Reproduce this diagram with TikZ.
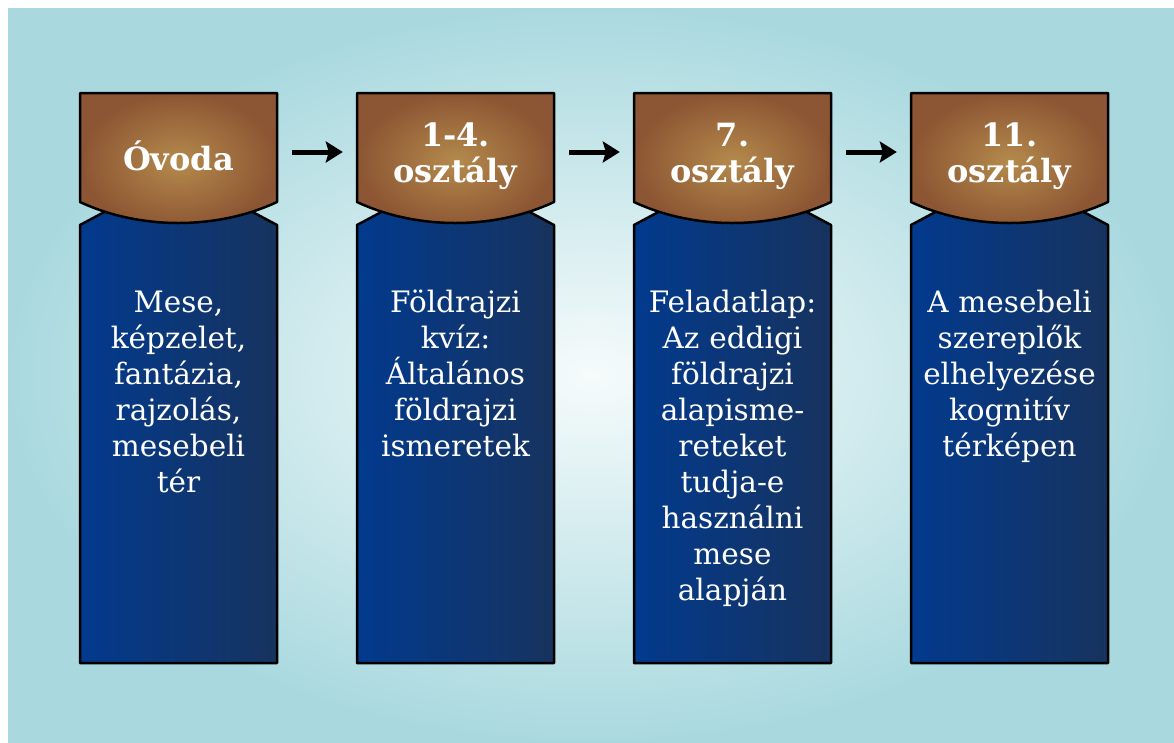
\documentclass[tikz,border=0pt]{standalone}
\usepackage{fontspec}
\setmainfont{DejaVu Serif}
\usepackage{tikz}
\usetikzlibrary{arrows.meta}

\definecolor{bgin}{HTML}{F6FBFB}
\definecolor{bgout}{HTML}{A9D9DF}
\definecolor{brownin}{HTML}{B48A4C}
\definecolor{brownout}{HTML}{8C5533}
\definecolor{blueleft}{HTML}{023A8E}
\definecolor{blueright}{HTML}{17335E}

\tikzset{
    hdr/.style={draw=black, line width=2.5pt, line join=round, inner color=brownin, outer color=brownout},
    body/.style={draw=black, line width=2.5pt, line join=round, left color=blueleft, right color=blueright},
    hdrtext/.style={text=white, inner sep=0pt, text width=197pt, align=center, font=\bfseries\fontsize{32}{36}\selectfont},
    bodytext/.style={text=white, inner sep=0pt, text width=197pt, align=center, anchor=north, font=\fontsize{29.5}{36}\selectfont},
    flow/.style={line width=5pt, -{Stealth[length=17pt,width=21pt,inset=3pt]}, shorten <=15pt, shorten >=14pt}
}

\begin{document}
\begin{tikzpicture}[x=1pt, y=-1pt]
        % Background
        \fill[white] (0,0) rectangle (1174,742);
        \shade[inner color=bgin, outer color=bgout] (8,8) rectangle (1174,742);

        % Column 1 - Ovoda
        \draw[body] (80,225) -- (110,209) -- (247,209) -- (277,225) -- (277,663) -- (80,663) -- cycle;
        \draw[hdr] (80,93) -- (277,93) -- (277,202) .. controls (217,230) and (140,230) .. (80,202) -- cycle;
        \node[hdrtext] (h1) at (178.5,156) {Óvoda};
        \node[bodytext] (t1) at (178.5,287) {\strut Mese,\\ képzelet,\\ fantázia,\\ rajzolás,\\ mesebeli\\ tér};

        % Column 2 - 1-4. osztaly
        \draw[body] (357,225) -- (387,209) -- (524,209) -- (554,225) -- (554,663) -- (357,663) -- cycle;
        \draw[hdr] (357,93) -- (554,93) -- (554,202) .. controls (494,230) and (417,230) .. (357,202) -- cycle;
        \node[hdrtext] (h2) at (455.5,156) {1-4.\\ osztály};
        \node[bodytext] (t2) at (455.5,287) {\strut Földrajzi\\ kvíz:\\ Általános\\ földrajzi\\ ismeretek};

        % Column 3 - 7. osztaly
        \draw[body] (634,225) -- (664,209) -- (801,209) -- (831,225) -- (831,663) -- (634,663) -- cycle;
        \draw[hdr] (634,93) -- (831,93) -- (831,202) .. controls (771,230) and (694,230) .. (634,202) -- cycle;
        \node[hdrtext] (h3) at (732.5,156) {7.\\ osztály};
        \node[bodytext] (t3) at (732.5,287) {\strut Feladatlap:\\ Az eddigi\\ földrajzi\\ alapisme-\\ reteket\\ tudja-e\\ használni\\ mese\\ alapján};

        % Column 4 - 11. osztaly
        \draw[body] (911,225) -- (941,209) -- (1078,209) -- (1108,225) -- (1108,663) -- (911,663) -- cycle;
        \draw[hdr] (911,93) -- (1108,93) -- (1108,202) .. controls (1048,230) and (971,230) .. (911,202) -- cycle;
        \node[hdrtext] (h4) at (1009.5,156) {11.\\ osztály};
        \node[bodytext] (t4) at (1009.5,287) {\strut A mesebeli\\ szereplők\\ elhelyezése\\ kognitív\\ térképen};

        % Arrows between the stages
        \draw[flow] ([yshift=4pt]h1.east) -- ([yshift=4pt]h2.west);
        \draw[flow] ([yshift=4pt]h2.east) -- ([yshift=4pt]h3.west);
        \draw[flow] ([yshift=4pt]h3.east) -- ([yshift=4pt]h4.west);
    \end{tikzpicture}
\end{document}
